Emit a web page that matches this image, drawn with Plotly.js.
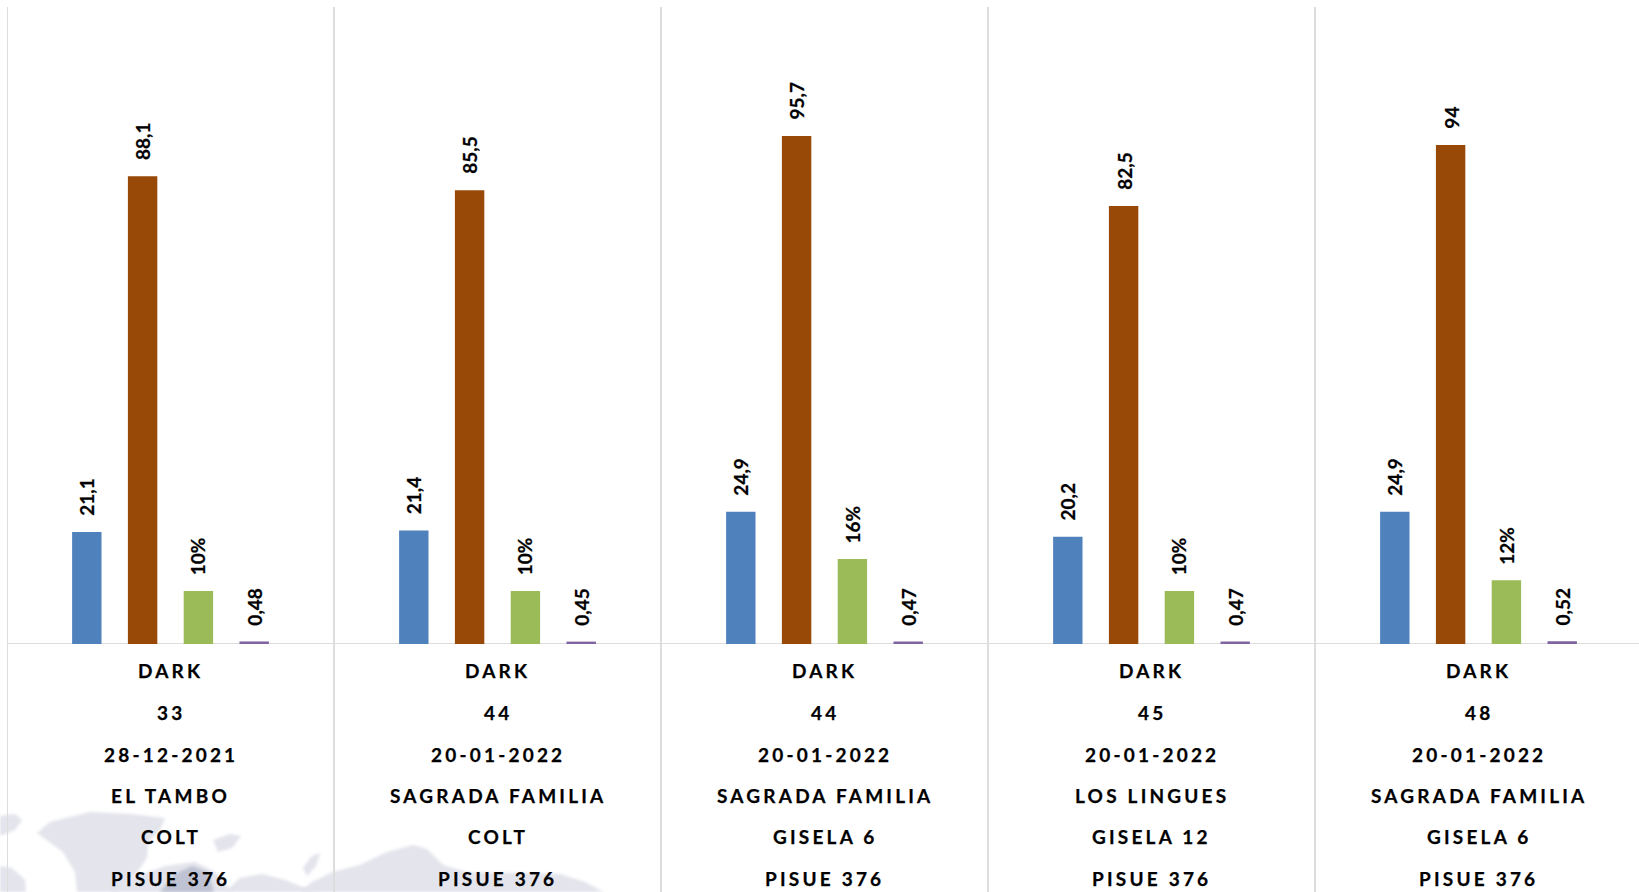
<!DOCTYPE html>
<html><head><meta charset="utf-8">
<script src="https://cdn.plot.ly/plotly-3.0.1.min.js"></script>
<style>
html,body{margin:0;padding:0;background:#fff;overflow:hidden}
#c{width:1639px;height:892px}
.annotation-text{stroke:#000;stroke-width:0.25px}
path[style*="rgb(227, 228, 236)"],path[style*="rgb(190, 194, 210)"]{filter:blur(1.5px)}
</style></head><body><div id="c"></div>
<script>
const categories = [0,1,2,3,4];
const blueValues = [21.1,21.4,24.9,20.2,24.9];
const blueLabels = ['21,1','21,4','24,9','20,2','24,9'];
const brownValues = [88.1,85.5,95.7,82.5,94];
const brownLabels = ['88,1','85,5','95,7','82,5','94'];
const greenValues = [10,10,16,10,12];
const greenLabels = ['10%','10%','16%','10%','12%'];
const purpleValues = [0.48,0.45,0.47,0.47,0.52];
const purpleLabels = ['0,48','0,45','0,47','0,47','0,52'];
const line1 = ['DARK','DARK','DARK','DARK','DARK'];
const line2 = ['33','44','44','45','48'];
const line3 = ['28-12-2021','20-01-2022','20-01-2022','20-01-2022','20-01-2022'];
const line4 = ['EL TAMBO','SAGRADA FAMILIA','SAGRADA FAMILIA','LOS LINGUES','SAGRADA FAMILIA'];
const line5 = ['COLT','COLT','GISELA 6','GISELA 12','GISELA 6'];
const line6 = ['PISUE 376','PISUE 376','PISUE 376','PISUE 376','PISUE 376'];
const labelLines = [line1,line2,line3,line4,line5,line6];
const lineY = [670,712,754,795,837,878];

// Decorative watermark map behind the axis labels (page pixels), not data.
const mapLight = [
  [[0,816],[15,814],[22,820],[15,830],[0,836]],
  [[37,833],[50,822],[90,812],[130,814],[165,818],[160,830],[148,842],[147,858],[135,875],[118,892],[77,892],[75,872],[63,852]],
  [[213,840],[230,834],[241,836],[232,848],[218,852]],
  [[0,866],[12,868],[25,880],[26,892],[0,892]],
  [[225,892],[240,878],[262,874],[285,880],[300,886],[320,892]],
  [[303,868],[312,856],[320,853],[316,866],[307,876]],
  [[300,892],[312,882],[333,872],[360,865],[387,852],[413,845],[427,849],[443,865],[467,872],[520,873],[560,874],[585,882],[604,892]],
  [[110,892],[135,877],[165,866],[195,862],[215,872],[232,892]]
];
const mapDark = [
  [[160,892],[175,874],[192,866],[208,872],[214,892]]
];

const font = 'Lato, Carlito, sans-serif';
function bar(values,color){
  return {type:'bar',x:categories,y:values,marker:{color:color,line:{width:0}},hoverinfo:'skip'};
}
const marginL=7, plotW=1632, marginT=7, plotH=637;
const barPitch=0.1706, labelGap=14;
const annotations=[];
labelLines.forEach((ln,r)=>ln.forEach((t,i)=>annotations.push({
  x:i,xref:'x',y:(marginT+plotH-lineY[r])/plotH,yref:'paper',
  text:'<span style="letter-spacing:3.2px"><b>'+t+'</b></span>',showarrow:false,
  xanchor:'center',yanchor:'middle',font:{family:font,size:19,color:'#000'}
})));
[[blueValues,blueLabels],[brownValues,brownLabels],[greenValues,greenLabels],[purpleValues,purpleLabels]].forEach((s,k)=>{
  s[0].forEach((v,i)=>annotations.push({
    x:i+(k-1.5)*barPitch,xref:'x',y:v,yref:'y',yshift:labelGap,textangle:-90,
    text:'<b>'+s[1][i]+'</b>',showarrow:false,xanchor:'center',yanchor:'bottom',
    font:{family:font,size:19,color:'#000'}
  }));
});
function mapPath(pts){
  return pts.map((p,i)=>(i?'L':'M')+((p[0]-marginL)/plotW).toFixed(5)+','+((marginT+plotH-p[1])/plotH).toFixed(5)).join(' ')+' Z';
}
const shapes=[];
mapLight.forEach(p=>shapes.push({type:'path',xref:'paper',yref:'paper',path:mapPath(p),fillcolor:'#E3E4EC',line:{width:0},layer:'below'}));
mapDark.forEach(p=>shapes.push({type:'path',xref:'paper',yref:'paper',path:mapPath(p),fillcolor:'#BEC2D2',line:{width:0},layer:'below'}));
categories.forEach((c,i)=>shapes.push({type:'line',xref:'x',yref:'paper',x0:c-0.5,x1:c-0.5,y0:-0.39,y1:1,
  line:{color:'#DDDDDD',width:2},layer:'below'}));
shapes.push({type:'line',xref:'paper',yref:'y',x0:0,x1:1,y0:0,y1:0,line:{color:'#DDDDDD',width:2},layer:'below'});

Plotly.newPlot('c',[bar(blueValues,'#4F81BD'),bar(brownValues,'#984807'),
  bar(greenValues,'#9BBB59'),bar(purpleValues,'#8064A2')],{
  width:1639,height:892,margin:{l:marginL,r:0,t:marginT,b:248},
  paper_bgcolor:'#fff',plot_bgcolor:'rgba(0,0,0,0)',showlegend:false,
  barmode:'group',bargap:0.3175,bargroupgap:0.473,
  xaxis:{type:'linear',range:[-0.5,4.4908],showticklabels:false,ticks:'',showgrid:false,zeroline:false,showline:false},
  yaxis:{range:[0,120],visible:false,showgrid:false,zeroline:false},
  annotations:annotations,shapes:shapes
},{displayModeBar:false,staticPlot:true});
</script></body></html>
